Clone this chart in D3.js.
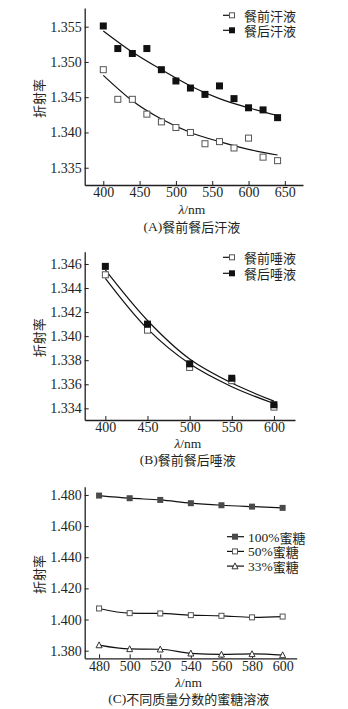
<!DOCTYPE html>
<html>
<head>
<meta charset="utf-8">
<script src="https://cdn.jsdelivr.net/npm/d3@7/dist/d3.min.js"></script>
<style>
  html, body { margin: 0; padding: 0; background: #fff; }
  svg { display: block; }
  text { fill: #231f20; }
</style>
</head>
<body>
<svg id="fig" width="348" height="709"></svg>
<script>
// ---- Panel A: sweat before / after a meal ----
const wlA = [400, 420, 440, 460, 480, 500, 520, 540, 560, 580, 600, 620, 640];
const sweatBefore = [1.3489, 1.3447, 1.3447, 1.3426, 1.3415, 1.3407, 1.3400, 1.3384, 1.3387, 1.3378, 1.3392, 1.3365, 1.3360];
const sweatAfter  = [1.3551, 1.3519, 1.3512, 1.3519, 1.3489, 1.3473, 1.3463, 1.3454, 1.3466, 1.3448, 1.3435, 1.3432, 1.3421];
// fitted trend lines sampled along the wavelength axis
const fitWlA = [400, 440, 480, 520, 560, 600, 640];
const fitSweatBefore = [1.3481, 1.3445, 1.3419, 1.3400, 1.3387, 1.3376, 1.3368];
const fitSweatAfter  = [1.3544, 1.3514, 1.3489, 1.3466, 1.3448, 1.3435, 1.3424];
const ticksXA = [400, 450, 500, 550, 600, 650];
const ticksYA = [1.335, 1.340, 1.345, 1.350, 1.355];

// ---- Panel B: saliva before / after a meal ----
const wlB = [400, 450, 500, 550, 600];
const salivaBefore = [1.3451, 1.3405, 1.3374, 1.3363, 1.3341];
const salivaAfter  = [1.3458, 1.3410, 1.3377, 1.3365, 1.3343];
const fitSalivaBefore = [1.3448, 1.3406, 1.3377, 1.3358, 1.3344];
const fitSalivaAfter  = [1.3455, 1.3413, 1.3381, 1.3361, 1.3346];
const ticksXB = [400, 450, 500, 550, 600];
const ticksYB = [1.334, 1.336, 1.338, 1.340, 1.342, 1.344, 1.346];

// ---- Panel C: honey solutions of different mass fraction ----
const wlC = [480, 500, 520, 540, 560, 580, 600];
const honey100 = [1.4796, 1.4779, 1.4768, 1.4747, 1.4734, 1.4725, 1.4717];
const honey50  = [1.4071, 1.4041, 1.4039, 1.4028, 1.4024, 1.4014, 1.4019];
const honey33  = [1.3836, 1.3811, 1.3809, 1.3783, 1.3776, 1.3779, 1.3772];
const ticksXC = [480, 500, 520, 540, 560, 580, 600];
const ticksYC = [1.380, 1.400, 1.420, 1.440, 1.460, 1.480];

const svg = d3.select("#fig");
const NUM_FONT = "'Liberation Serif', 'DejaVu Serif', serif";
const CJK_FONT = "'Noto Sans CJK SC', 'Noto Sans', sans-serif";
const FS = 14;      // numbers
const FS_CJK = 13;  // Chinese text

function panel(cfg) {
  const g = svg.append("g");
  const x = d3.scaleLinear().domain(cfg.xDomain).range([cfg.left, cfg.right]);
  const y = d3.scaleLinear().domain(cfg.yDomain).range([cfg.bottom, cfg.top]);

  // axes (ticks point inward)
  const ax = g.append("g").attr("transform", `translate(0,${cfg.bottom})`)
    .call(d3.axisBottom(x).tickValues(cfg.ticksX).tickSize(-4).tickSizeOuter(0).tickPadding(2.5)
      .tickFormat(d3.format("d")));
  const ay = g.append("g").attr("transform", `translate(${cfg.left},0)`)
    .call(d3.axisLeft(y).tickValues(cfg.ticksY).tickSize(-4).tickSizeOuter(0).tickPadding(3)
      .tickFormat(d3.format(".3f")));
  [ax, ay].forEach(a => {
    a.select(".domain").attr("stroke", "#231f20").attr("stroke-width", 1.3);
    a.selectAll(".tick line").attr("stroke", "#231f20").attr("stroke-width", 1);
    a.selectAll(".tick text").attr("font-family", NUM_FONT).attr("font-size", FS).attr("fill", "#231f20");
  });
  ax.selectAll(".tick text").attr("dy", "0.71em");

  // y-axis title
  g.append("text")
    .attr("transform", `translate(${cfg.yLabelX},${(cfg.top + cfg.bottom) / 2 + 2}) rotate(-90)`)
    .attr("text-anchor", "middle").attr("dominant-baseline", "central")
    .attr("font-family", CJK_FONT).attr("font-size", FS_CJK).attr("fill", "#3a3030")
    .text("折射率");

  // x-axis title λ/nm
  const xt = g.append("text")
    .attr("x", (cfg.left + cfg.right) / 2 - 2).attr("y", cfg.xTitleY)
    .attr("text-anchor", "middle").attr("dominant-baseline", "central")
    .attr("font-family", NUM_FONT).attr("font-size", 13.5);
  xt.append("tspan").attr("font-style", "italic").text("λ");
  xt.append("tspan").text("/nm");

  // caption
  g.append("text")
    .attr("x", (cfg.left + cfg.right) / 2 - 2).attr("y", cfg.captionY)
    .attr("text-anchor", "middle").attr("dominant-baseline", "central")
    .attr("font-size", 13.5)
    .call(t => {
      t.append("tspan").attr("font-family", NUM_FONT).text(cfg.capPrefix);
      t.append("tspan").attr("font-family", CJK_FONT).attr("font-size", FS_CJK).text(cfg.capText);
    });

  return { g, x, y };
}

function drawMarker(sel, kind, cx, cy, size) {
  if (kind === "filled" || kind === "grey") {
    sel.append("rect").attr("x", cx - size / 2).attr("y", cy - size / 2)
      .attr("width", size).attr("height", size)
      .attr("fill", kind === "filled" ? "#111" : "#4a4a4a");
  } else if (kind === "open") {
    sel.append("rect").attr("x", cx - size / 2 + 0.5).attr("y", cy - size / 2 + 0.5)
      .attr("width", size - 1).attr("height", size - 1)
      .attr("fill", "#fff").attr("stroke", "#555").attr("stroke-width", 1);
  } else if (kind === "tri") {
    const h = size * 0.9;
    sel.append("path")
      .attr("d", `M${cx},${cy - h / 2 - 0.5}L${cx + size / 2},${cy + h / 2}L${cx - size / 2},${cy + h / 2}Z`)
      .attr("fill", "#fff").attr("stroke", "#333").attr("stroke-width", 1);
  }
}

function series(p, xs, ys, kind, size) {
  const grp = p.g.append("g");
  xs.forEach((xv, i) => drawMarker(grp, kind, p.x(xv), p.y(ys[i]), size));
}

function curve(p, xs, ys, curveType) {
  const line = d3.line().x((d, i) => p.x(xs[i])).y(d => p.y(d)).curve(curveType || d3.curveMonotoneX);
  p.g.append("path").datum(ys).attr("d", line)
    .attr("fill", "none").attr("stroke", "#111").attr("stroke-width", 1.2);
}

function legend(p, items, x0, y0, dy, lineLen, markerX, textX, size) {
  items.forEach((it, i) => {
    const yy = y0 + i * dy;
    const gg = p.g.append("g");
    gg.append("line").attr("x1", x0).attr("x2", x0 + lineLen).attr("y1", yy).attr("y2", yy)
      .attr("stroke", "#111").attr("stroke-width", 1.2);
    drawMarker(gg, it.kind, markerX, yy, size);
    gg.append("text").attr("x", textX).attr("y", yy).attr("dominant-baseline", "central")
      .attr("font-size", FS_CJK)
      .call(t => {
        if (it.num) t.append("tspan").attr("font-family", NUM_FONT).attr("font-size", 13.5).text(it.num);
        t.append("tspan").attr("font-family", CJK_FONT).text(it.label);
      });
  });
}

// Panel A
const pA = panel({
  xDomain: [374.4, 675], yDomain: [1.33255, 1.35765],
  left: 84.7, right: 303, top: 8, bottom: 185,
  ticksX: ticksXA, ticksY: ticksYA,
  yLabelX: 38, xTitleY: 208.5, captionY: 226,
  capPrefix: "(A)", capText: "餐前餐后汗液"
});
curve(pA, fitWlA, fitSweatBefore);
curve(pA, fitWlA, fitSweatAfter);
series(pA, wlA, sweatBefore, "open", 7);
series(pA, wlA, sweatAfter, "filled", 7);
legend(pA, [{ kind: "open", label: "餐前汗液" }, { kind: "filled", label: "餐后汗液" }],
  223, 15.3, 15, 12, 232, 244, 6);

// Panel B
const pB = panel({
  xDomain: [375.5, 625], yDomain: [1.33303, 1.34702],
  left: 84.7, right: 295, top: 251.7, bottom: 420,
  ticksX: ticksXB, ticksY: ticksYB,
  yLabelX: 38, xTitleY: 442.5, captionY: 459,
  capPrefix: "(B)", capText: "餐前餐后唾液"
});
curve(pB, wlB, fitSalivaBefore, d3.curveCatmullRom);
curve(pB, wlB, fitSalivaAfter, d3.curveCatmullRom);
series(pB, wlB, salivaBefore, "open", 7);
series(pB, wlB, salivaAfter, "filled", 7);
legend(pB, [{ kind: "open", label: "餐前唾液" }, { kind: "filled", label: "餐后唾液" }],
  223, 257.3, 16, 12, 232, 244, 6);

// Panel C
const pC = panel({
  xDomain: [470.6, 609.2], yDomain: [1.3751, 1.4853],
  left: 84.7, right: 296.7, top: 486.7, bottom: 658.3,
  ticksX: ticksXC, ticksY: ticksYC,
  yLabelX: 38, xTitleY: 682, captionY: 698,
  capPrefix: "(C)", capText: "不同质量分数的蜜糖溶液"
});
curve(pC, wlC, honey100);
curve(pC, wlC, honey50);
curve(pC, wlC, honey33);
series(pC, wlC, honey100, "grey", 6);
series(pC, wlC, honey50, "open", 6);
series(pC, wlC, honey33, "tri", 6);
legend(pC, [
  { kind: "grey", num: "100%", label: "蜜糖" },
  { kind: "open", num: "50%", label: "蜜糖" },
  { kind: "tri", num: "33%", label: "蜜糖" }
], 227, 536.7, 14.7, 17, 235, 248, 6);
</script>
</body>
</html>
